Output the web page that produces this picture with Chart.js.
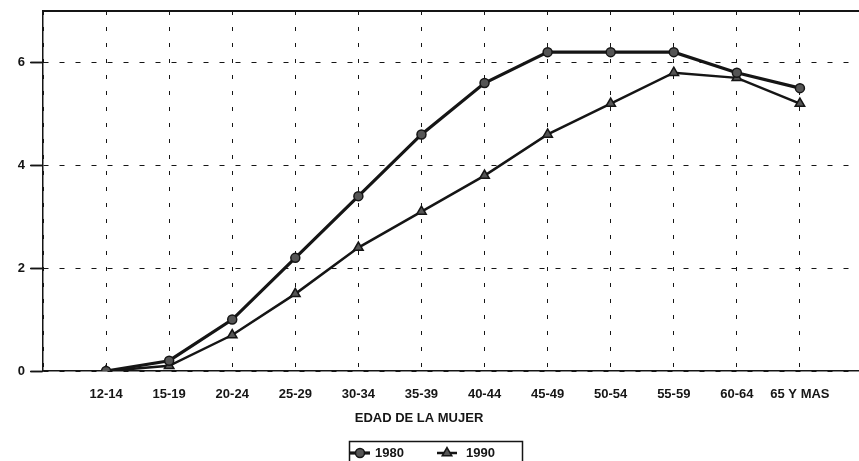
<!DOCTYPE html>
<html>
<head>
<meta charset="utf-8">
<script src="https://cdn.jsdelivr.net/npm/chart.js@4/dist/chart.umd.min.js"></script>
<style>
  html, body { margin: 0; padding: 0; background: #fff; overflow: hidden; }
  #wrap { width: 859px; height: 461px; overflow: hidden; }
</style>
</head>
<body>
<div id="wrap"><canvas id="chart" width="870" height="461"></canvas></div>
<script>
  // Age groups (x axis)
  const categories = ['12-14', '15-19', '20-24', '25-29', '30-34', '35-39',
                      '40-44', '45-49', '50-54', '55-59', '60-64', '65 Y MAS'];
  const seriesNames = ['1980', '1990'];
  const values1980 = [0, 0.2, 1.0, 2.2, 3.4, 4.6, 5.6, 6.2, 6.2, 6.2, 5.8, 5.5];
  const values1990 = [0, 0.1, 0.7, 1.5, 2.4, 3.1, 3.8, 4.6, 5.2, 5.8, 5.7, 5.2];
  const yTicks = [0, 2, 4, 6];
  const xTitle = 'EDAD DE LA MUJER';

  const FONT = 'Liberation Sans, Arial, sans-serif';
  const INK = '#151515';

  const toPoints = arr => arr.map((v, i) => ({ x: i, y: v }));

  // y tick marks, x-axis title and the boxed legend under the plot
  const extras = {
    id: 'extras',
    afterDraw(chart) {
      const ctx = chart.ctx;
      const yScale = chart.scales.y;
      ctx.save();
      ctx.strokeStyle = INK;
      ctx.lineWidth = 1.5;
      yTicks.forEach(v => {
        const py = Math.round(yScale.getPixelForValue(v)) + 0.5;
        ctx.beginPath();
        ctx.moveTo(yScale.right - 13, py);
        ctx.lineTo(yScale.right, py);
        ctx.stroke();
      });

      ctx.fillStyle = INK;
      ctx.font = 'bold 13px ' + FONT;
      ctx.textAlign = 'center';
      ctx.textBaseline = 'middle';
      ctx.fillText(xTitle, 419, 418);

      // legend box
      ctx.lineWidth = 1.5;
      ctx.strokeRect(349.5, 441.5, 173, 26);
      ctx.textAlign = 'left';
      chart.data.datasets.forEach((ds, i) => {
        const cx = 360 + i * 87;
        const cy = 453;
        ctx.strokeStyle = ds.borderColor;
        ctx.lineWidth = ds.borderWidth;
        ctx.beginPath();
        ctx.moveTo(cx - 10, cy);
        ctx.lineTo(cx + 10, cy);
        ctx.stroke();
        ctx.fillStyle = ds.pointBackgroundColor;
        ctx.strokeStyle = ds.pointBorderColor;
        ctx.lineWidth = ds.pointBorderWidth;
        Chart.helpers.drawPoint(ctx, {
          pointStyle: ds.pointStyle,
          radius: ds.pointRadius,
          borderWidth: ds.pointBorderWidth,
          rotation: 0
        }, cx, cy);
        ctx.fillStyle = INK;
        ctx.fillText(ds.label, cx + 15 + i * 4, cy);
      });
      ctx.restore();
    }
  };

  new Chart(document.getElementById('chart').getContext('2d'), {
    type: 'line',
    data: {
      datasets: [
        {
          label: seriesNames[0],
          data: toPoints(values1980),
          borderColor: INK,
          backgroundColor: '#555',
          borderWidth: 3.2,
          pointStyle: 'circle',
          pointRadius: 4.5,
          pointBackgroundColor: '#555',
          pointBorderColor: INK,
          pointBorderWidth: 1.5,
          tension: 0,
        },
        {
          label: seriesNames[1],
          data: toPoints(values1990),
          borderColor: INK,
          backgroundColor: '#555',
          borderWidth: 2.5,
          pointStyle: 'triangle',
          pointRadius: 5.5,
          pointBackgroundColor: '#555',
          pointBorderColor: INK,
          pointBorderWidth: 1.5,
          tension: 0,
        },
      ],
    },
    options: {
      responsive: false,
      animation: false,
      devicePixelRatio: 1,
      layout: { padding: { top: 11, left: 0, right: 0, bottom: 0 } },
      plugins: {
        legend: { display: false },
        tooltip: { enabled: false },
      },
      scales: {
        x: {
          type: 'linear',
          position: 'bottom',
          min: -1,
          max: categories.length,
          afterBuildTicks: s => { s.ticks = categories.map((_, i) => ({ value: i })).concat([{ value: -1 }]); },
          afterFit: s => { s.height = 90; s.paddingLeft = 0; s.paddingRight = 0; },
          ticks: {
            callback: v => categories[v] ?? '',
            autoSkip: false,
            maxRotation: 0,
            padding: 16,
            color: INK,
            font: { family: FONT, size: 13, weight: 'bold' },
          },
          grid: { color: INK, lineWidth: 1, drawTicks: false },
          border: { display: true, color: INK, width: 1.5, dash: [4, 12] },
        },
        xTop: {
          type: 'linear',
          position: 'top',
          afterFit: s => { s.height = 0; },
          ticks: { display: false },
          grid: { display: false },
          border: { display: true, color: INK, width: 2 },
        },
        y: {
          min: 0,
          max: 7,
          afterBuildTicks: s => { s.ticks = yTicks.map(v => ({ value: v })); },
          afterFit: s => { s.width = 43; s.paddingTop = 0; s.paddingBottom = 0; },
          ticks: {
            padding: 6,
            color: INK,
            font: { family: FONT, size: 13, weight: 'bold' },
          },
          grid: { color: INK, lineWidth: 1, drawTicks: true, tickLength: 12, tickColor: INK, tickWidth: 1.5 },
          border: { display: true, color: INK, width: 1.5, dash: [5, 11] },
        },
      },
    },
    plugins: [extras],
  });
</script>
</body>
</html>
